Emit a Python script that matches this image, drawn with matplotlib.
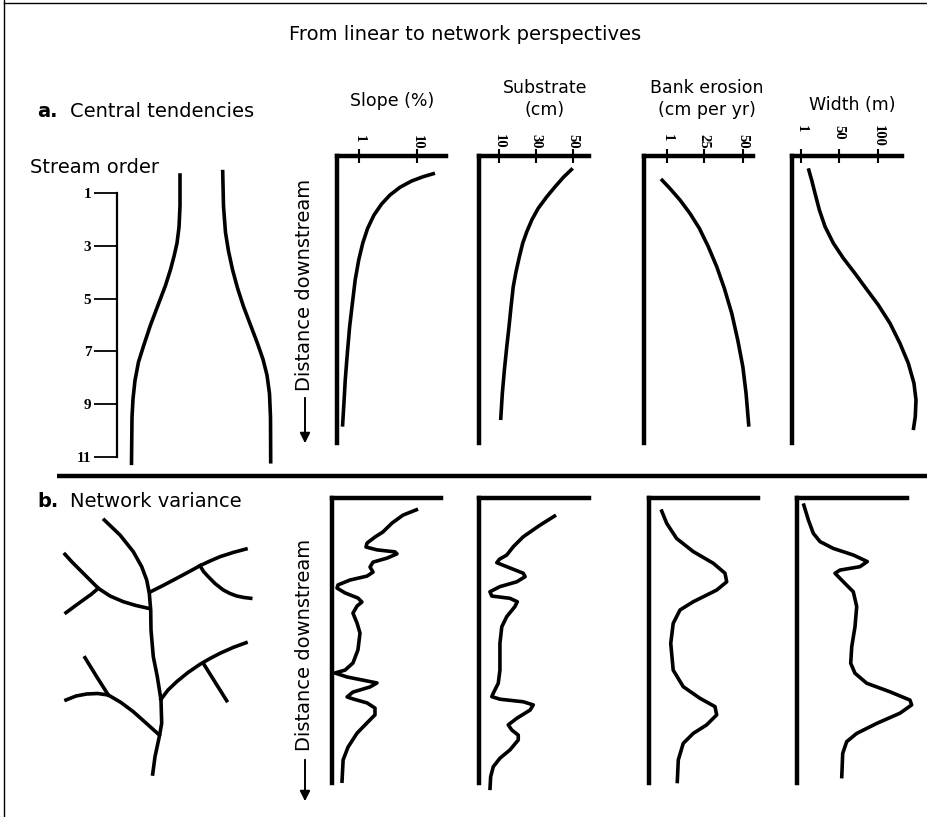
from __future__ import annotations

import matplotlib

matplotlib.use("Agg")

import matplotlib.pyplot as plt
from matplotlib.ticker import NullLocator
from matplotlib.transforms import offset_copy

W, H, DPI = 928, 817, 100

# ---- a. central tendencies -------------------------------------------------
STREAM_ORDER_TICKS = [1, 3, 5, 7, 9, 11]
LEFT_BANK_ORDER = [0.32, 1.5, 2.3, 2.9, 3.4, 3.9, 4.5, 5.3, 6.0, 6.8, 7.4, 8.1, 8.8, 9.5, 11.24]
LEFT_BANK_POS = [-2.15, -2.15, -2.25, -2.45, -2.75, -3.1, -3.6, -4.4, -5.1, -5.8, -6.3, -6.65, -6.85, -6.95, -7.0]
RIGHT_BANK_ORDER = [0.19, 1.5, 2.5, 3.2, 3.9, 4.6, 5.3, 6.0, 6.7, 7.3, 7.9, 8.6, 9.5, 11.18]
RIGHT_BANK_POS = [2.12, 2.2, 2.4, 2.7, 3.1, 3.6, 4.2, 4.9, 5.6, 6.15, 6.55, 6.8, 6.9, 6.92]

SLOPE_A_DIST = [6.0, 7.2, 8.7, 10.9, 13.6, 16.7, 20.6, 25.2, 30.4, 36.2, 43.2, 51.3, 59.5,
                68.7, 78.0, 86.2, 94.3]
SLOPE_A_VAL = [20.4, 12.8, 8.1, 5.09, 3.42, 2.46, 1.81, 1.41, 1.16, 0.99, 0.86, 0.77, 0.69,
               0.63, 0.58, 0.55, 0.52]
SUBSTRATE_A_DIST = [4.3, 7.4, 10.7, 14.2, 18.2, 22.3, 26.4, 30.4, 35.1, 40.3, 45.5, 52.5, 59.5,
                    66.4, 74.6, 82.7, 92.0]
SUBSTRATE_A_VAL = [49.8, 44.8, 40.3, 35.8, 31.2, 27.7, 25.0, 22.8, 21.0, 19.2, 17.7, 16.5, 15.4,
                   14.2, 12.9, 11.8, 10.9]
BANK_A_DIST = [8.0, 11.3, 15.3, 20.0, 25.2, 31.6, 38.6, 46.1, 54.8, 64.1, 73.4, 82.7, 94.3]
BANK_A_VAL = [-2.9, 2.9, 9.4, 15.9, 22.0, 27.8, 33.3, 38.2, 43.0, 46.9, 50.2, 52.3, 54.1]
WIDTH_A_DIST = [4.3, 8.4, 13.0, 18.8, 24.6, 30.4, 35.6, 40.9, 46.1, 51.9, 58.3, 65.3, 72.2,
                79.2, 85.0, 90.8, 95.5]
WIDTH_A_VAL = [10.4, 14.7, 19.0, 24.6, 31.9, 42.6, 55.4, 70.4, 84.5, 100.4, 115.5, 128.3, 139.0,
               146.3, 148.9, 148.0, 145.4]

SLOPE_TICKS, SLOPE_LABELS = [1, 10], ["1", "10"]
SUBSTRATE_TICKS, SUBSTRATE_LABELS = [10, 30, 50], ["10", "30", "50"]
BANK_TICKS, BANK_LABELS = [1, 25, 50], ["1", "25", "50"]
WIDTH_TICKS, WIDTH_LABELS = [1, 50, 100], ["1", "50", "100"]

# ---- b. network variance ---------------------------------------------------
MAIN_STEM_X = [5.43, 7.0, 8.33, 9.17, 9.67, 9.93, 10.07, 10.1, 10.33, 10.73, 11.1, 11.17, 10.93, 10.5, 10.27]
MAIN_STEM_Y = [27.0, 25.5, 23.83, 22.33, 21.0, 19.67, 18.0, 16.0, 13.33, 11.33, 9.0, 6.67, 5.33, 3.33, 1.6]
UPPER_LEFT_X = [1.5, 2.2, 3.0, 3.9, 4.83, 6.0, 7.33, 8.6, 9.83]
UPPER_LEFT_Y = [23.57, 22.8, 22.0, 21.1, 20.17, 19.4, 18.83, 18.45, 18.17]
UPPER_LEFT_TRIB_X = [4.83, 4.1, 3.33, 2.5, 1.6]
UPPER_LEFT_TRIB_Y = [20.17, 19.55, 19.0, 18.4, 17.73]
UPPER_RIGHT_X = [10.07, 11.4, 12.67, 13.85, 15.0, 16.0, 17.0, 18.3, 19.6]
UPPER_RIGHT_Y = [19.83, 20.5, 21.17, 21.8, 22.43, 22.9, 23.33, 23.75, 24.1]
UPPER_RIGHT_TRIB_X = [15.0, 15.35, 15.83, 16.5, 17.33, 18.0, 18.67, 19.4, 20.07]
UPPER_RIGHT_TRIB_Y = [22.43, 21.85, 21.33, 20.65, 20.0, 19.65, 19.4, 19.25, 19.17]
LOWER_RIGHT_X = [11.1, 11.8, 12.67, 13.8, 15.0, 16.0, 17.0, 18.3, 19.6]
LOWER_RIGHT_Y = [9.07, 10.0, 10.83, 11.75, 12.57, 13.15, 13.67, 14.25, 14.73]
LOWER_RIGHT_TRIB_X = [15.33, 17.67]
LOWER_RIGHT_TRIB_Y = [12.67, 8.93]
LOWER_LEFT_X = [1.6, 2.6, 3.67, 4.75, 5.83, 7.1, 8.33, 9.6, 10.93]
LOWER_LEFT_Y = [9.0, 9.4, 9.6, 9.65, 9.5, 8.75, 7.83, 6.7, 5.5]
LOWER_LEFT_TRIB_X = [3.5, 4.67, 5.83]
LOWER_LEFT_TRIB_Y = [13.23, 11.33, 9.5]

SLOPE_B_DIST = [3.9, 6.0, 8.8, 11.9, 13.7, 15.8, 17.2, 18.2, 18.9, 19.6, 21.1, 22.5, 24.2, 26.0,
                27.4, 28.8, 30.5, 31.6, 33.3, 35.1, 36.5, 37.9, 40.4, 43.9, 47.4, 53.3, 57.9,
                60.4, 61.4, 62.8, 64.2, 64.9, 66.3, 68.1, 69.8, 70.5, 71.9, 73.7, 76.1, 78.9,
                82.5, 87.4, 91.9, 100.0]
SLOPE_B_VAL = [12.7, 7.0, 4.52, 3.16, 2.30, 1.68, 1.61, 2.49, 5.09, 5.51, 3.71, 2.13, 1.89, 2.13,
               1.68, 0.85, 0.53, 0.51, 0.70, 1.17, 1.37, 1.13, 0.96, 1.13, 1.27, 1.17, 0.96,
               0.70, 0.47, 0.76, 1.68, 2.49, 1.89, 0.96, 0.76, 0.96, 1.68, 2.30, 2.30, 1.68,
               1.13, 0.79, 0.65, 0.62]
SUBSTRATE_B_DIST = [6.0, 9.5, 13.6, 17.1, 20.0, 21.5, 22.7, 24.1, 26.4, 27.6, 29.4, 31.1, 32.9,
                    34.4, 35.2, 36.4, 38.1, 41.6, 45.2, 51.0, 60.4, 65.0, 68.5, 69.7, 70.6, 71.5,
                    72.6, 74.4, 77.3, 79.6, 81.4, 83.2, 84.9, 88.4, 91.3, 94.3, 97.8, 102.5]
SUBSTRATE_B_VAL = [40.8, 32.2, 23.1, 17.7, 14.2, 10.2, 8.8, 14.2, 23.1, 24.1, 19.6, 10.5, 5.1,
                   6.1, 15.9, 19.9, 18.6, 14.2, 11.5, 10.5, 10.5, 9.6, 6.9, 6.1, 10.5, 23.1,
                   28.5, 26.8, 19.6, 15.0, 16.9, 20.4, 20.4, 15.9, 10.5, 6.9, 5.5, 5.1]
BANK_B_DIST = [4.0, 8.9, 14.2, 18.8, 22.9, 26.4, 29.4, 32.3, 36.4, 39.3, 44.0, 51.0, 60.4, 66.2,
               70.3, 73.2, 76.1, 79.6, 82.6, 86.1, 91.9, 100.1]
BANK_B_VAL = [-6.1, -2.4, 4.0, 14.8, 27.8, 35.4, 36.5, 30.0, 14.8, 6.2, 1.8, 0.2, 1.8, 8.3,
              19.2, 28.9, 30.0, 23.5, 14.8, 8.3, 5.1, 4.4]
WIDTH_B_DIST = [1.9, 7.7, 12.4, 15.3, 17.7, 20.0, 22.3, 24.1, 25.3, 26.4, 29.4, 32.9, 38.1, 45.2,
                52.2, 58.0, 61.5, 65.0, 68.0, 70.9, 72.6, 75.5, 79.1, 82.6, 85.5, 89.6, 98.4]
WIDTH_B_VAL = [-2.5, 4.0, 10.4, 19.0, 36.1, 61.8, 79.8, 70.4, 44.7, 38.3, 49.0, 61.8, 66.2, 64.0,
               59.8, 58.5, 64.0, 79.1, 109.0, 134.7, 136.9, 121.9, 91.9, 66.2, 53.3, 48.2, 46.9]

SANS = "DejaVu Sans"
SERIF = "Liberation Serif"
CURVE_LW = 2.6
AXIS_LW = 3.2


def px_axes(fig: plt.Figure, left: float, top: float, right: float, bottom: float) -> plt.Axes:
    ax = fig.add_axes([left / W, 1 - bottom / H, (right - left) / W, (bottom - top) / H])
    ax.set_facecolor("none")
    return ax


def style_profile(ax: plt.Axes, xlim: tuple[float, float], log: bool) -> None:
    if log:
        ax.set_xscale("log")
    ax.set_xlim(*xlim)
    ax.set_ylim(100, 0)
    for side in ("right", "bottom"):
        ax.spines[side].set_visible(False)
    for side in ("left", "top"):
        ax.spines[side].set_linewidth(AXIS_LW)
        ax.spines[side].set_capstyle("projecting")
    ax.xaxis.set_minor_locator(NullLocator())
    ax.set_yticks([])
    ax.set_xticks([])


def add_top_ticks(ax: plt.Axes, ticks: list[float], labels: list[str], gap_px: float) -> None:
    ax.set_xticks(ticks)
    ax.tick_params(axis="x", top=True, bottom=False, labeltop=False, labelbottom=False,
                   direction="inout", length=9.5, width=1.5)
    trans = offset_copy(ax.get_xaxis_transform(), fig=ax.figure, y=gap_px * 72 / DPI, units="points")
    for t, lab in zip(ticks, labels):
        ax.text(t, 1.0, lab, transform=trans, rotation=-90, rotation_mode="anchor",
                ha="left", va="center", fontfamily=SERIF, fontweight="bold", fontsize=10.5,
                clip_on=False)


def draw_curve(ax: plt.Axes, values: list[float], dist: list[float]) -> None:
    ax.plot(values, dist, color="black", lw=CURVE_LW, solid_joinstyle="round",
            solid_capstyle="butt", clip_on=False)


def main() -> None:
    fig = plt.figure(figsize=(W / DPI, H / DPI), dpi=DPI)

    # page-level decorations in pixel space
    page = fig.add_axes([0, 0, 1, 1])
    page.set_xlim(0, W)
    page.set_ylim(H, 0)
    page.axis("off")
    page.plot([4, 4], [0, H], color="black", lw=1.0)
    page.plot([4, W], [3, 3], color="black", lw=1.0)
    page.plot([57, W], [476, 476], color="black", lw=3.2, solid_capstyle="butt")

    page.text(465, 34, "From linear to network perspectives", ha="center", va="center",
              fontsize=14, fontfamily=SANS)
    page.text(37, 117, "a.", fontsize=14, fontweight="bold", fontfamily=SANS)
    page.text(70, 117, "Central tendencies", fontsize=14, fontfamily=SANS)
    page.text(37, 507, "b.", fontsize=14, fontweight="bold", fontfamily=SANS)
    page.text(70, 507, "Network variance", fontsize=14, fontfamily=SANS)
    page.text(30, 173, "Stream order", fontsize=14, fontfamily=SANS)

    headers = [("Slope (%)", 392, 101), ("Substrate\n(cm)", 545, 99),
               ("Bank erosion\n(cm per yr)", 707, 99), ("Width (m)", 852, 105)]
    for text, x, y in headers:
        page.text(x, y, text, ha="center", va="center", fontsize=12.5, fontfamily=SANS,
                  linespacing=1.25)

    for y_text, y0, y1 in [(285, 395, 446), (645, 757, 804)]:
        page.text(305, y_text, "Distance downstream", rotation=90, ha="center", va="center",
                  fontsize=14, fontfamily=SANS)
        page.annotate("", xy=(305, y1), xytext=(305, y0),
                      arrowprops=dict(arrowstyle="-|>", color="black", lw=1.4, mutation_scale=15))

    # stream order schematic
    so = px_axes(fig, 117, 193, 290, 457)
    so.set_xlim(-8.45, 8.85)
    so.set_ylim(11, 1)
    for side in ("right", "top", "bottom"):
        so.spines[side].set_visible(False)
    so.spines["left"].set_linewidth(1.6)
    so.set_xticks([])
    so.set_yticks(STREAM_ORDER_TICKS)
    so.tick_params(axis="y", direction="out", length=16.5, width=1.3, pad=2)
    for lab in so.get_yticklabels():
        lab.set_fontfamily(SERIF)
        lab.set_fontweight("bold")
        lab.set_fontsize(11)
    so.plot(LEFT_BANK_POS, LEFT_BANK_ORDER, color="black", lw=CURVE_LW, clip_on=False)
    so.plot(RIGHT_BANK_POS, RIGHT_BANK_ORDER, color="black", lw=CURVE_LW, clip_on=False)

    # variable profiles
    slope_lim = (0.418, 31.6)
    substrate_lim = (-0.8, 58.6)
    bank_lim = (-13.9, 56.8)
    width_lim = (-10.6, 130.9)

    row_a = [
        ((337, 446), slope_lim, True, SLOPE_TICKS, SLOPE_LABELS, 21, SLOPE_A_VAL, SLOPE_A_DIST),
        ((479, 589), substrate_lim, False, SUBSTRATE_TICKS, SUBSTRATE_LABELS, 22,
         SUBSTRATE_A_VAL, SUBSTRATE_A_DIST),
        ((644, 753), bank_lim, False, BANK_TICKS, BANK_LABELS, 22, BANK_A_VAL, BANK_A_DIST),
        ((792, 902), width_lim, False, WIDTH_TICKS, WIDTH_LABELS, 31, WIDTH_A_VAL, WIDTH_A_DIST),
    ]
    for (x0, x1), lim, log, ticks, labels, gap, vals, dist in row_a:
        ax = px_axes(fig, x0, 156, x1, 443)
        style_profile(ax, lim, log)
        add_top_ticks(ax, ticks, labels, gap)
        draw_curve(ax, vals, dist)

    row_b = [
        ((332, 441), slope_lim, True, SLOPE_B_VAL, SLOPE_B_DIST),
        ((479, 589), substrate_lim, False, SUBSTRATE_B_VAL, SUBSTRATE_B_DIST),
        ((649, 758), bank_lim, False, BANK_B_VAL, BANK_B_DIST),
        ((797, 907), width_lim, False, WIDTH_B_VAL, WIDTH_B_DIST),
    ]
    for (x0, x1), lim, log, vals, dist in row_b:
        ax = px_axes(fig, x0, 498, x1, 783)
        style_profile(ax, lim, log)
        draw_curve(ax, vals, dist)

    # branching network
    net = px_axes(fig, 50, 505, 270, 790)
    net.set_xlim(0, 22)
    net.set_ylim(0, 28.5)
    net.axis("off")
    reaches = [
        (MAIN_STEM_X, MAIN_STEM_Y), (UPPER_LEFT_X, UPPER_LEFT_Y),
        (UPPER_LEFT_TRIB_X, UPPER_LEFT_TRIB_Y), (UPPER_RIGHT_X, UPPER_RIGHT_Y),
        (UPPER_RIGHT_TRIB_X, UPPER_RIGHT_TRIB_Y), (LOWER_RIGHT_X, LOWER_RIGHT_Y),
        (LOWER_RIGHT_TRIB_X, LOWER_RIGHT_TRIB_Y), (LOWER_LEFT_X, LOWER_LEFT_Y),
        (LOWER_LEFT_TRIB_X, LOWER_LEFT_TRIB_Y),
    ]
    for xs, ys in reaches:
        net.plot(xs, ys, color="black", lw=CURVE_LW, solid_joinstyle="round", clip_on=False)

    fig.savefig("out.png", dpi=DPI)
    plt.close(fig)


if __name__ == "__main__":
    main()
